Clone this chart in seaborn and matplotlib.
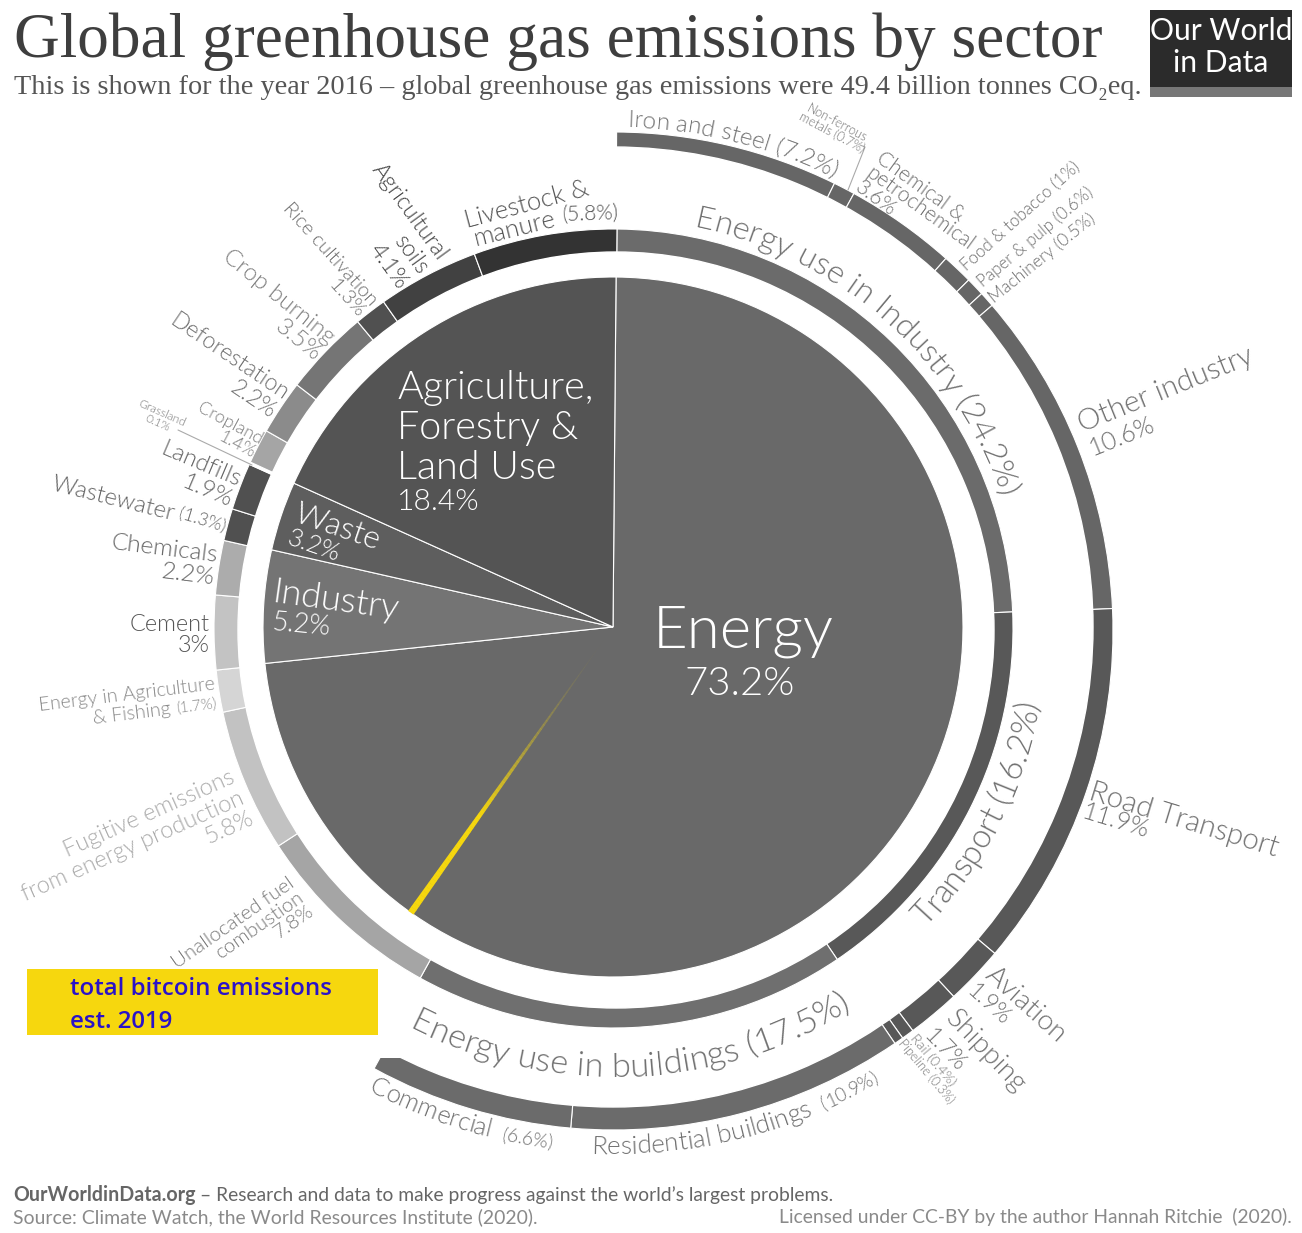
import numpy as np
import matplotlib.pyplot as plt
import seaborn as sns
from matplotlib.patches import Rectangle, Wedge
from matplotlib.font_manager import FontProperties, fontManager
from matplotlib.textpath import text_to_path


# ---------------------------------------------------------------------------
# Data (share of global emissions, %)
# ---------------------------------------------------------------------------

sector_names = ["Energy", "Industry", "Waste", "Agriculture, Forestry & Land Use"]
sector_values = [73.2, 5.2, 3.2, 18.4]
sector_colors = ["#696969", "#747474", "#5e5e5e", "#545454"]

sub_names = ["Energy use in Industry", "Transport", "Energy use in buildings",
             "Unallocated fuel combustion", "Fugitive emissions", "Energy in Agriculture & Fishing",
             "Cement", "Chemicals", "Wastewater", "Landfills", "Grassland", "Cropland",
             "Deforestation", "Crop burning", "Rice cultivation", "Agricultural soils", "Livestock & manure"]
sub_values = [24.2, 16.2, 17.5, 7.8, 5.8, 1.7, 3.0, 2.2, 1.3, 1.9, 0.1, 1.4, 2.2, 3.5, 1.3, 4.1, 5.8]
sub_colors = ["#6b6b6b", "#585858", "#6f6f6f", "#a5a5a5", "#c2c2c2", "#d5d5d5",
              "#c3c3c3", "#acacac", "#505050", "#505050", "#ffffff", "#a5a5a5",
              "#8b8b8b", "#757575", "#505050", "#414141", "#333333"]

detail_names = ["Iron and steel", "Non-ferrous metals", "Chemical & petrochemical", "Food & tobacco",
                "Paper & pulp", "Machinery", "Other industry", "Road Transport", "Aviation", "Shipping",
                "Rail", "Pipeline", "Residential buildings", "Commercial"]
detail_values = [7.2, 0.7, 3.6, 1.0, 0.6, 0.5, 10.6, 11.9, 1.9, 1.7, 0.4, 0.3, 10.9, 6.6]
detail_colors = ["#666666"] * 7 + ["#585858"] * 5 + ["#6b6b6b"] * 2

bitcoin_share = 0.3
bitcoin_at = 59.8   # where the wedge sits, % clockwise from 12 o'clock
bitcoin_yellow = "#f6d70e"

# ---------------------------------------------------------------------------
# Figure set-up, axes in image pixels
# ---------------------------------------------------------------------------

W, H, DPI = 1302, 1233, 100
CX, CY = 613, H - 627

sns.set_theme(style="white")
LATO = ["Lato", "DejaVu Sans"]
SERIF = ["Liberation Serif", "DejaVu Serif"]
plt.rcParams["font.family"] = LATO

# matplotlib picks Lato Thin for weight="light", so go to the Light file itself
light_files = [f.fname for f in fontManager.ttflist if f.fname.endswith("Lato-Light.ttf")]
LIGHT = light_files[0] if light_files else None

fig = plt.figure(figsize=(W / DPI, H / DPI), dpi=DPI)
ax = fig.add_axes([0, 0, 1, 1])


def px(size):
    return size * 72 / DPI


def font(size, weight="light", family=LATO):
    if weight == "light" and LIGHT:
        return FontProperties(fname=LIGHT, size=px(size))
    return FontProperties(family=family, weight="normal" if weight == "light" else weight, size=px(size))


def label(x, y, s, size, color="#707070", rot=0, ha="center", va="center", weight="light", ls=1.0, family=LATO):
    ax.text(x, H - y, s, fontproperties=font(size, weight, family), color=color, rotation=rot,
            rotation_mode="anchor", ha=ha, va=va, ma=ha, linespacing=ls)


def curved(s, mid, r, size, color="#707070", bottom=False):
    # letters follow the circle; on the lower half the text runs the other way round
    fp = font(size)
    adv = [text_to_path.get_text_width_height_descent(s[:i], fp, False)[0] * DPI / 72 if i else 0
           for i in range(len(s) + 1)]
    for i, ch in enumerate(s):
        off = (adv[i] + adv[i + 1]) / 2 - adv[-1] / 2
        ang = mid + (-1 if bottom else 1) * np.degrees(off / r)
        t = np.radians(ang)
        rot = 180 - ang if bottom else -ang
        ax.text(CX + r * np.sin(t), CY + r * np.cos(t), ch, fontproperties=fp, color=color,
                rotation=rot, rotation_mode="anchor", ha="center", va="baseline")


# ---------------------------------------------------------------------------
# Rings and pie
# ---------------------------------------------------------------------------

edge = {"edgecolor": "white", "linewidth": 0.8}

# outer ring only covers the energy sub-sectors, rest of the circle is left empty
rest = 100 - sum(detail_values)
wedges = ax.pie(detail_values + [rest], colors=sns.color_palette(detail_colors) + [(1, 1, 1, 0)],
                center=(CX + 1, CY - 4), radius=499, startangle=89.7, counterclock=False,
                wedgeprops=edge, frame=True)[0]
wedges[-1].set_edgecolor("none")
# the end of the ring is cut off flat in the original
ax.add_patch(Rectangle((368, H - 1058), 36, 18, facecolor="white", edgecolor="none"))

ax.pie([1], colors=["white"], center=(CX, CY), radius=480, frame=True)

ax.pie(sub_values, colors=sns.color_palette(sub_colors), center=(CX + 0.5, CY - 1.5), radius=399.5, startangle=89.5,
       counterclock=False, wedgeprops=edge, frame=True)
ax.pie([1], colors=["white"], center=(CX + 3, CY - 3), radius=378, frame=True)

ax.pie(sector_values, colors=sns.color_palette(sector_colors), center=(CX, CY), radius=350, startangle=89.5,
       counterclock=False, wedgeprops=edge, frame=True)

# bitcoin sliver fades into the pie towards the middle
half = bitcoin_share * 3.6 / 2
mid_ang = 90 - bitcoin_at * 3.6
steps = 70
for i in range(steps):
    r_out = 350 * (i + 1) / steps
    ax.add_patch(Wedge((CX, CY), r_out, mid_ang - half, mid_ang + half, width=350 / steps + 0.4,
                       facecolor=bitcoin_yellow, edgecolor="none", alpha=min(1, ((i + 1) / steps * 1.5) ** 2)))

# ---------------------------------------------------------------------------
# Labels inside the pie
# ---------------------------------------------------------------------------

label(743, 631, "Energy", 60, "white")
label(740, 684, "73.2%", 40, "white")
label(397, 428, "Agriculture,\nForestry &\nLand Use", 39.5, "white", ha="left", ls=1.13)
label(397, 502, "18.4%", 30, "white", ha="left")
label(337, 527, "Waste", 32, "white", rot=-19)
label(314, 546, "3.2%", 25, "white", rot=-19)
label(336, 601, "Industry", 36, "white", rot=-8)
label(301, 625, "5.2%", 27, "white", rot=-5)

# ---------------------------------------------------------------------------
# Labels round the rings
# ---------------------------------------------------------------------------

curved("Energy use in Industry (24.2%)", 41.5, 408, 32.5)
curved("Transport (16.2%)", 117, 433, 33, bottom=True)
curved("Energy use in buildings (17.5%)", 177.5, 450, 34.5, bottom=True)
curved("Iron and steel (7.2%)", 13.9, 500, 24.2)
curved("Residential buildings", 170, 527, 26, bottom=True)
curved("(10.9%)", 153, 527, 19, bottom=True)
curved("Commercial", 200.7, 525, 25.5, bottom=True)
curved("(6.6%)", 189.5, 525, 19, bottom=True)

label(834, 128, "Non-ferrous\nmetals (0.7%)", 12.5, rot=-28, ls=0.95)
ax.plot([860, 865, 848], [H - 145, H - 147, H - 190], color="#aaaaaa", lw=0.8)
label(868, 171, "Chemical &\npetrochemical\n3.6%", 21, rot=-36, ha="left", ls=0.88)
label(1020, 216, "Food & tobacco (1%)", 17, rot=42)
label(1035, 237, "Paper & pulp (0.6%)", 17, rot=40)
label(1042, 258, "Machinery (0.5%)", 17.5, rot=39)
label(1166, 390, "Other industry", 29.5, rot=22)
label(1122, 437, "10.6%", 25, rot=22)
label(1184, 820, "Road Transport", 29.5, rot=-17)
label(1115, 821, "11.9%", 25, rot=-17)
label(1026, 1005, "Aviation", 28, rot=-42)
label(989, 1005, "1.9%", 23, rot=-42)
label(986, 1052, "Shipping", 28, rot=-46)
label(945, 1050, "1.7%", 23, rot=-46)
label(933, 1060, "Rail (0.4%)", 14, rot=-50)
label(926, 1071, "Pipeline (0.3%)", 12.5, rot=-50)

label(302, 895, "Unallocated fuel\ncombustion\n7.8%", 20.5, "#7a7a7a", rot=35, ha="right", ls=1.0)
label(243, 797, "Fugitive emissions\nfrom energy production\n5.8%", 23.5, "#ababab", rot=24, ha="right", ls=1.1)
label(215, 684, "Energy in Agriculture", 19.5, "#8a8a8a", rot=7, ha="right")
label(171, 709, "& Fishing", 19.5, "#8a8a8a", rot=7, ha="right")
label(217, 704, "(1.7%)", 15, "#8a8a8a", rot=7, ha="right")
label(210, 635, "Cement\n3%", 23.5, "#555555", ha="right", ls=1.0)
label(216, 567, "Chemicals\n2.2%", 24.5, "#666666", rot=-7, ha="right", ls=1.08)
label(113, 499, "Wastewater", 24, "#666666", rot=-14)
label(202, 520, "(1.3%)", 18, "#666666", rot=-17)
label(236, 491, "Landfills\n1.9%", 24, "#666666", rot=-23, ha="right", ls=1.05)
label(160, 418, "Grassland\n0.1%", 12, "#777777", rot=-24, ls=0.95)
ax.plot([178, 252], [H - 430, H - 465], color="#aaaaaa", lw=0.8)
label(258, 447, "Cropland\n1.4%", 18, "#808080", rot=-28, ha="right", ls=1.0)
label(280, 405, "Deforestation\n2.2%", 23, rot=-34, ha="right", ls=1.05)
label(325, 348, "Crop burning\n3.5%", 24, "#808080", rot=-39, ha="right", ls=1.05)
label(368, 309, "Rice cultivation\n1.3%", 20, rot=-48, ha="right", ls=1.0)
label(423, 272, "Agricultural\nsoils\n4.1%", 23, "#444444", rot=-54, ha="right", ls=1.2)
label(527, 205, "Livestock &", 25.5, "#555555", rot=15)
label(515, 229, "manure", 25.5, "#555555", rot=14)
label(591, 214, "(5.8%)", 21, "#555555", rot=2)

# ---------------------------------------------------------------------------
# Bitcoin note
# ---------------------------------------------------------------------------

ax.add_patch(Rectangle((27, H - 1035), 351, 66, facecolor=bitcoin_yellow, edgecolor="none"))
label(70, 989, "total bitcoin emissions", 24, "#2a12c8", ha="left", weight="semibold", family=["Open Sans"])
label(70, 1022, "est. 2019", 24, "#2a12c8", ha="left", weight="semibold", family=["Open Sans"])

# ---------------------------------------------------------------------------
# Title, logo, footer
# ---------------------------------------------------------------------------

label(14, 57, "Global greenhouse gas emissions by sector", 63.2, "#3e3e3e", ha="left", va="baseline",
      weight="normal", family=SERIF)
label(14, 94, "This is shown for the year 2016 – global greenhouse gas emissions were 49.4 billion tonnes CO₂eq.",
      28.3, "#555555", ha="left", va="baseline", weight="normal", family=SERIF)

ax.add_patch(Rectangle((1150, H - 87), 142, 77, facecolor="#2b2b2b", edgecolor="none"))
ax.add_patch(Rectangle((1150, H - 97), 142, 10, facecolor="#777777", edgecolor="none"))
label(1221, 47, "Our World\nin Data", 30, "white", ls=1.18, weight="normal")

label(13, 1195, "OurWorldinData.org", 19.6, "#666666", ha="left", weight="bold")
label(200, 1195, "– Research and data to make progress against the world’s largest problems.", 19.3, "#666666",
      ha="left", weight="normal")
label(13, 1217, "Source: Climate Watch, the World Resources Institute (2020).", 19.4, "#8a8a8a", ha="left", weight="normal")
label(1292, 1217, "Licensed under CC-BY by the author Hannah Ritchie  (2020).", 19.3, "#8a8a8a", ha="right", weight="normal")

ax.set_xlim(0, W)
ax.set_ylim(0, H)
ax.set_aspect("auto")
ax.axis("off")

fig.savefig("out.png", dpi=DPI)
